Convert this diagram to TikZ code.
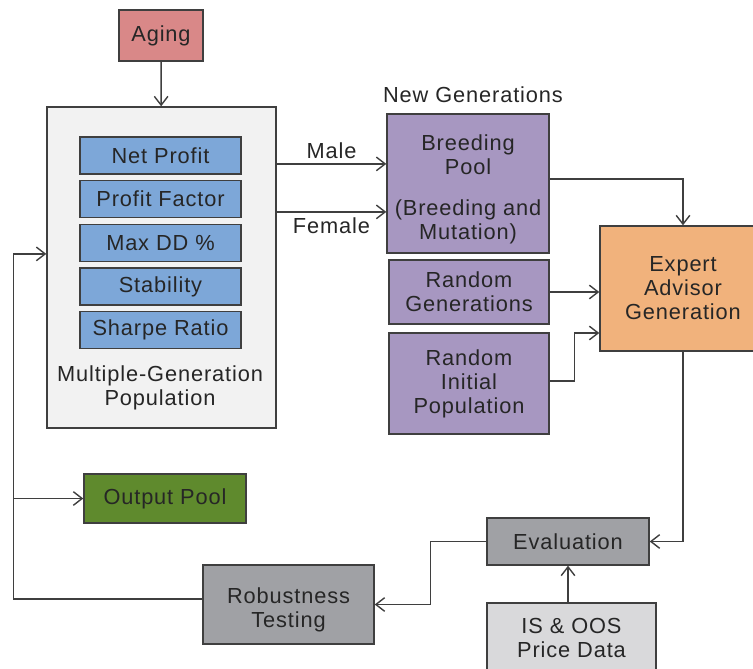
\documentclass[tikz,border=0pt]{standalone}
\usepackage{fontspec}
\setmainfont{Liberation Sans}[LetterSpace=4]
\usetikzlibrary{arrows.meta}
\definecolor{strich}{RGB}{63,63,63}
\definecolor{aging}{RGB}{217,136,136}
\definecolor{pop}{RGB}{242,242,242}
\definecolor{krit}{RGB}{125,167,216}
\definecolor{lila}{RGB}{167,151,193}
\definecolor{orange}{RGB}{241,178,124}
\definecolor{gruen}{RGB}{95,138,45}
\definecolor{grau}{RGB}{160,161,165}
\definecolor{hellgrau}{RGB}{217,217,219}
\begin{document}
\begin{tikzpicture}[
	font=\fontsize{15.5}{17}\selectfont, text=black!85,
	kasten/.style={draw=strich, line width=1pt, align=center, inner sep=0pt},
	pfeil/.style={draw=strich, line width=1pt, -{Straight Barb[length=2.2mm, width=3.4mm]}}
]
	\useasboundingbox (0,0) rectangle (18.825,16.7);
	% Aging oben
	\node[kasten, fill=aging, minimum width=2.1cm, minimum height=1.275cm] (aging) at (4.025,15.8125) {Aging};
	% Population mit Kriterien
	\node[kasten, fill=pop, minimum width=5.725cm, minimum height=8.025cm] (pop) at (4.0375,10.0125) {};
	\foreach \text [count=\i] in {Net Profit, Profit Factor, Max DD \%, Stability, Sharpe Ratio}
		\node[kasten, fill=krit, minimum width=4.025cm, minimum height=0.925cm] (krit\i) at (4.0125,{13.9-1.09*\i}) {\text};
	\node[align=center] (poplabel) at (4.0,7.0125) {Multiple-Generation\\Population};
	% neue Generationen
	\node (neugen) at (11.825,14.325) {New Generations};
	\node[kasten, fill=lila, minimum width=4.05cm, minimum height=3.475cm] (breed) at (11.7,12.1125) {\rule{0pt}{0.7cm}Breeding\\Pool\\[0.42cm](Breeding and\\Mutation)};
	\node[kasten, fill=lila, minimum width=4.0cm, minimum height=1.6cm] (rgen) at (11.725,9.4) {Random\\Generations};
	\node[kasten, fill=lila, minimum width=4.0cm, minimum height=2.525cm] (rinit) at (11.725,7.1125) {Random\\Initial\\Population};
	% Expert Advisor
	\node[kasten, fill=orange, minimum width=4.15cm, minimum height=3.125cm] (expert) at (17.075,9.4875) {Expert\\Advisor\\Generation};
	% unten
	\node[kasten, fill=grau, minimum width=4.05cm, minimum height=1.175cm] (eval) at (14.2,3.1625) {Evaluation};
	\node[kasten, fill=hellgrau, minimum width=4.225cm, minimum height=1.75cm] (data) at (14.2875,0.75) {IS \& OOS\\Price Data};
	\node[kasten, fill=grau, minimum width=4.275cm, minimum height=1.975cm] (robust) at (7.2125,1.5875) {\rule{0pt}{0.65cm}Robustness\\Testing};
	\node[kasten, fill=gruen, minimum width=4.05cm, minimum height=1.225cm] (output) at (4.125,4.2375) {Output Pool};
	% Pfeile
	\draw[pfeil] (aging) -- (pop);
	\draw[pfeil] ([yshift=0.49cm]breed.west -| pop.east) -- node[midway, above] {Male} ([yshift=0.49cm]breed.west);
	\draw[pfeil] ([yshift=-0.71cm]breed.west -| pop.east) -- node[midway, below] {Female} ([yshift=-0.71cm]breed.west);
	\draw[pfeil] ([yshift=0.11cm]breed.east) -| (expert.north);
	\draw[pfeil] (rgen.east) -- (rgen.east -| expert.west);
	\draw[pfeil] ([yshift=0.06cm]rinit.east) -- ++(0.625,0) |- ([yshift=-1.1125cm]expert.west);
	\draw[pfeil] (expert.south) |- (eval.east);
	\draw[pfeil] (eval.south |- data.north) -- (eval.south);
	\draw[pfeil] (eval.west) -- ++(-1.4,0) |- (robust.east);
	\draw[pfeil] ([yshift=0.14cm]robust.west) -- ++(-4.725,0) |- ([yshift=0.34cm]pop.west);
	\draw[pfeil] ([xshift=-1.75cm]output.west) -- (output.west);
\end{tikzpicture}
\end{document}
